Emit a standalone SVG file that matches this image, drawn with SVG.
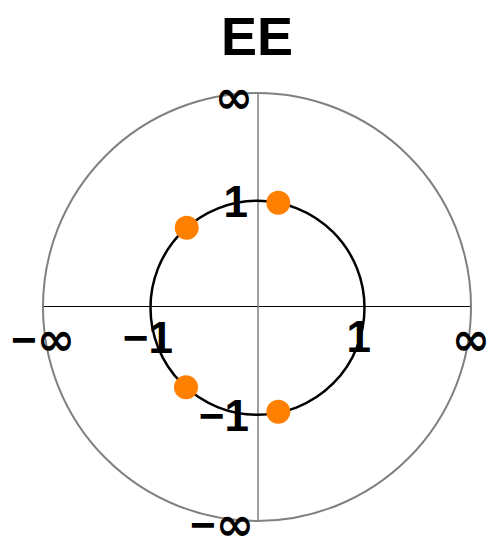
<svg xmlns="http://www.w3.org/2000/svg" width="493" height="544" viewBox="0 0 493 544">
<style>
.lbl{font-family:"Liberation Sans",Arial,sans-serif;font-weight:bold;font-size:44px;fill:#000}
.inf{font-family:"DejaVu Sans",sans-serif;font-weight:bold;font-size:46px}
.title{font-family:"Liberation Sans",Arial,sans-serif;font-weight:bold;font-size:54px;fill:#000}
.pole{fill:#ff8000}
</style>
<rect width="493" height="544" fill="#fff"/>
<g id="connectors">
<line x1="43" y1="306.5" x2="471" y2="306.5" stroke="#000" stroke-width="1"/>
<line x1="258" y1="93" x2="258" y2="521" stroke="#808080" stroke-width="1.5"/>
</g>
<g id="outer-circle"><circle cx="257" cy="307" r="214" fill="none" stroke="#808080" stroke-width="2"/></g>
<g id="unit-circle"><circle cx="257.5" cy="307.8" r="107" fill="none" stroke="#000" stroke-width="2.5"/></g>
<g id="title"><text class="title" x="257" y="55" text-anchor="middle">EE</text></g>
<g id="labels">
<text class="lbl" x="253" y="113" text-anchor="end"><tspan class="inf">∞</tspan></text>
<text class="lbl" x="248" y="217" text-anchor="end">1</text>
<text class="lbl" x="173" y="353" text-anchor="end">−1</text>
<text class="lbl" x="371" y="352" text-anchor="end">1</text>
<text class="lbl" x="249" y="431" text-anchor="end">−1</text>
<text class="lbl" x="75" y="355" text-anchor="end">−<tspan class="inf">∞</tspan></text>
<text class="lbl" x="490" y="355" text-anchor="end"><tspan class="inf">∞</tspan></text>
<text class="lbl" x="254" y="540" text-anchor="end">−<tspan class="inf">∞</tspan></text>
</g>
<g id="poles">
<circle class="pole" cx="186.7" cy="227.7" r="12"/>
<circle class="pole" cx="278.3" cy="202.7" r="12"/>
<circle class="pole" cx="186" cy="387.3" r="12"/>
<circle class="pole" cx="278.3" cy="411.7" r="12"/>
</g>
</svg>
